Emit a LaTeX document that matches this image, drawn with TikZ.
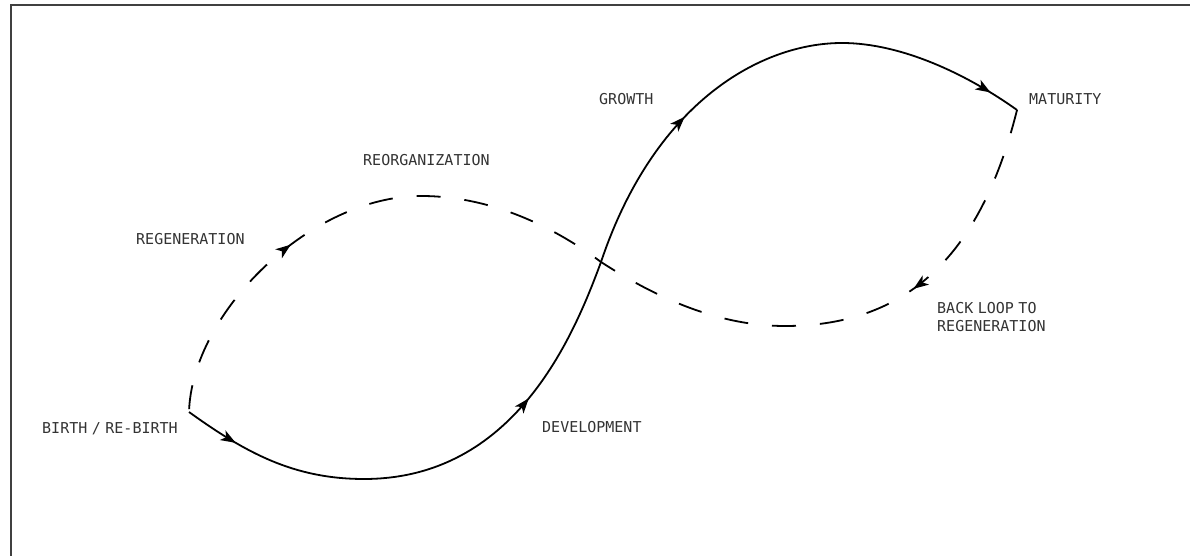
\documentclass[tikz,border=0pt]{standalone}
\usepackage{fontspec}
\usetikzlibrary{arrows.meta,decorations.markings}
\newfontfamily\labelfont[WordSpace=0.5]{DejaVu Sans Mono}

\begin{document}
\begin{tikzpicture}[x=1pt,y=1pt, >={Stealth[length=15pt,width=11pt,inset=4pt]},
    lbl/.style={inner sep=0pt, text height=11pt, text depth=0pt, text=black!80,
        font=\labelfont\fontsize{15}{18}\selectfont},
    curve/.style={line width=1.8pt, line join=round},
    loopback/.style={curve, dash pattern=on 24pt off 24pt}]
\useasboundingbox (0,0) rectangle (1190,556);
\draw[line width=1.8pt, black!75] (11,0) -- (11,551) -- (1190,551);

\coordinate (birth) at (189,144);
\coordinate (bottom) at (364,77);
\coordinate (cross) at (601,294);
\coordinate (top) at (842,513);
\coordinate (mature) at (1017,446);
\coordinate (low) at (785,230);
\coordinate (reorgtop) at (421,360);

% forward cycle
\draw[curve, postaction={decorate, decoration={markings,
      mark=at position 56pt with {\arrow{>}},
      mark=at position 381pt with {\arrow{>}},
      mark=at position 705pt with {\arrow{>}},
      mark=at position 1042pt with {\arrow{>}}}}]
  (birth) .. controls (246,103) and (294,77) .. (bottom)
          .. controls (514,77) and (573,218) .. (cross)
          .. controls (655,455) and (762,513) .. (top)
          .. controls (902,513) and (968,481) .. (mature);

% back loop
\draw[loopback, postaction={decorate, decoration={markings,
      mark=at position 211pt with {\arrow{>}},
      mark=at position 881pt with {\arrowreversed{>}}}}]
  (mature) .. controls (983,310) and (915,230) .. (low)
           .. controls (715,230) and (652,261) .. (cross)
           .. controls (554,329) and (491,360) .. (reorgtop)
           .. controls (311,360) and (192,244) .. (birth);

\node[lbl, anchor=west] (birthlbl) at (42,128) {BIRTH / RE-BIRTH};
\node[lbl, anchor=west] (devlbl) at (542,129) {DEVELOPMENT};
\node[lbl, anchor=west] (growthlbl) at (599,457) {GROWTH};
\node[lbl, anchor=west] (maturelbl) at (1029,457) {MATURITY};
\node[lbl, anchor=west] (reorglbl) at (363,396) {REORGANIZATION};
\node[lbl, anchor=west] (regenlbl) at (136,317) {REGENERATION};
\node[lbl, anchor=north west, align=left, text height=] (backlbl) at (937,253.5) {BACK LOOP TO\\REGENERATION};

\end{tikzpicture}
\end{document}
